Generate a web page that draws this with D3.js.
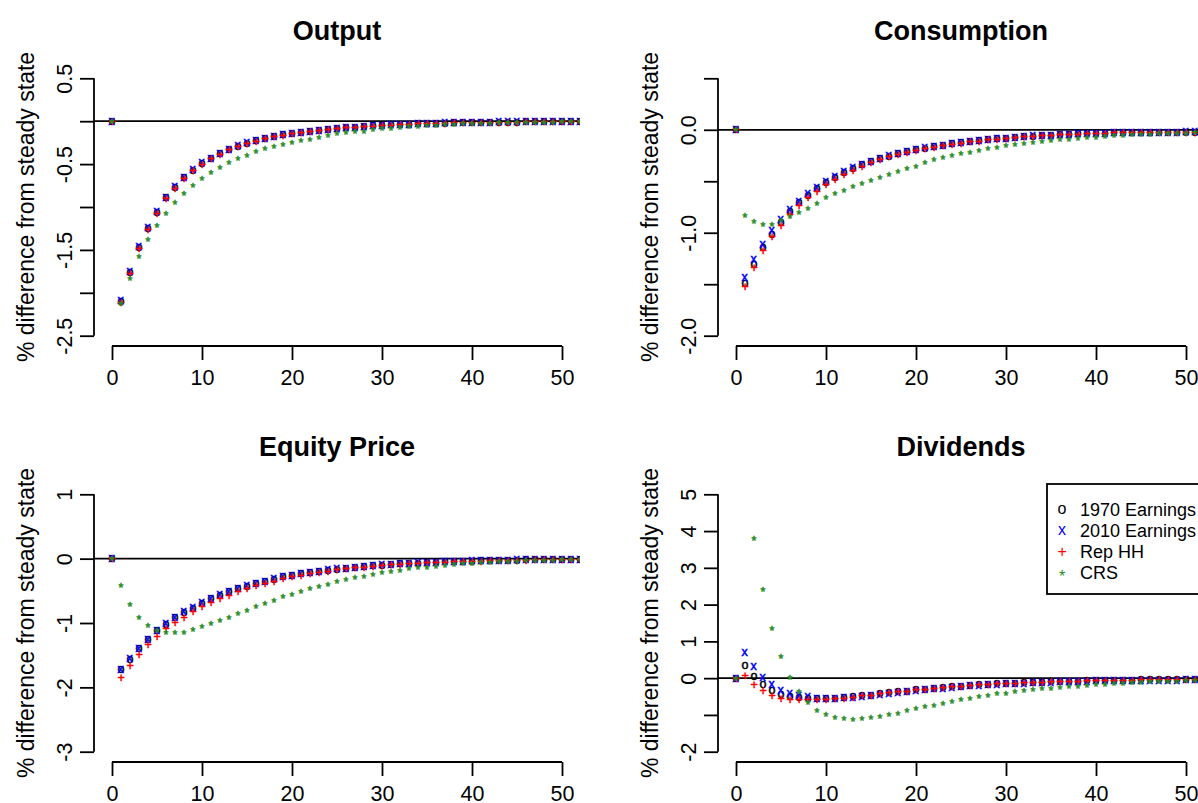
<!DOCTYPE html>
<html>
<head>
<meta charset="utf-8">
<title>Impulse responses</title>
<script src="https://d3js.org/d3.v7.min.js"></script>
<style>
  body { margin: 0; background: #fff; }
  svg text { font-family: "Liberation Sans", Arial, sans-serif; fill: #000; }
</style>
</head>
<body>
<svg id="chart" width="1198" height="803"></svg>
<script>
// periods after the shock
var periods = [0,1,2,3,4,5,6,7,8,9,10,11,12,13,14,15,16,17,18,19,20,21,22,23,24,25,
  26,27,28,29,30,31,32,33,34,35,36,37,38,39,40,41,42,43,44,45,46,47,48,49,50,51,52];

var legendLabels = ['1970 Earnings', '2010 Earnings', 'Rep HH', 'CRS'];
var xTicks = [0, 10, 20, 30, 40, 50];
var xLimits = [0, 50];

// Output
var output1970 = [0, -2.10, -1.76, -1.47, -1.25, -1.06, -0.89, -0.77, -0.66, -0.57,
  -0.49, -0.435, -0.38, -0.33, -0.29, -0.255, -0.23, -0.2, -0.175, -0.16,
  -0.143, -0.132, -0.12, -0.105, -0.093, -0.085, -0.078, -0.07, -0.062, -0.055,
  -0.05, -0.044, -0.04, -0.035, -0.031, -0.027, -0.024, -0.022, -0.02, -0.018,
  -0.016, -0.015, -0.012, -0.01, -0.01, -0.01, -0.008, -0.007, -0.006, -0.006,
  -0.005, -0.005, -0.004];
var output2010 = [0, -2.09, -1.75, -1.46, -1.24, -1.05, -0.885, -0.765, -0.655, -0.565,
  -0.487, -0.432, -0.378, -0.328, -0.288, -0.253, -0.228, -0.198, -0.174, -0.159,
  -0.142, -0.131, -0.119, -0.104, -0.092, -0.084, -0.077, -0.069, -0.061, -0.054,
  -0.049, -0.043, -0.039, -0.034, -0.03, -0.026, -0.023, -0.021, -0.019, -0.017,
  -0.015, -0.014, -0.011, -0.009, -0.009, -0.009, -0.007, -0.006, -0.005, -0.005,
  -0.004, -0.004, -0.003];
var outputRepHH = [0, -2.11, -1.77, -1.48, -1.26, -1.07, -0.90, -0.78, -0.67, -0.58,
  -0.50, -0.44, -0.385, -0.335, -0.295, -0.26, -0.233, -0.203, -0.178, -0.162,
  -0.145, -0.134, -0.122, -0.107, -0.095, -0.086, -0.079, -0.071, -0.063, -0.056,
  -0.051, -0.045, -0.041, -0.036, -0.032, -0.028, -0.025, -0.023, -0.021, -0.019,
  -0.017, -0.016, -0.013, -0.011, -0.011, -0.011, -0.009, -0.008, -0.007, -0.007,
  -0.006, -0.006, -0.005];
var outputCRS = [0, -2.12, -1.83, -1.58, -1.375, -1.21, -1.07, -0.95, -0.845, -0.75,
  -0.67, -0.60, -0.54, -0.485, -0.435, -0.395, -0.355, -0.32, -0.29, -0.268,
  -0.25, -0.229, -0.21, -0.185, -0.167, -0.148, -0.136, -0.124, -0.115, -0.10,
  -0.09, -0.08, -0.074, -0.066, -0.058, -0.05, -0.045, -0.04, -0.036, -0.032,
  -0.028, -0.025, -0.022, -0.02, -0.018, -0.016, -0.014, -0.012, -0.011, -0.01,
  -0.009, -0.008, -0.007];
var outputLimits = [-2.5, 0.5];
var outputTicks = [-2.5, -2, -1.5, -1, -0.5, 0, 0.5];
var outputTickLabels = ['-2.5', '', '-1.5', '', '-0.5', '', '0.5'];

// Consumption
var cons1970 = [0, -1.49, -1.305, -1.147, -1.015, -0.90, -0.795, -0.71, -0.637, -0.572,
  -0.511, -0.462, -0.414, -0.378, -0.34, -0.31, -0.281, -0.256, -0.233, -0.21,
  -0.194, -0.178, -0.165, -0.152, -0.136, -0.126, -0.113, -0.107, -0.094, -0.088,
  -0.081, -0.074, -0.068, -0.061, -0.055, -0.052, -0.049, -0.045, -0.041, -0.038,
  -0.036, -0.033, -0.03, -0.029, -0.028, -0.026, -0.025, -0.024, -0.023, -0.023,
  -0.022, -0.022, -0.021];
var cons2010 = [0, -1.438, -1.26, -1.111, -0.982, -0.872, -0.775, -0.692, -0.62, -0.56,
  -0.50, -0.452, -0.406, -0.371, -0.334, -0.305, -0.277, -0.252, -0.23, -0.208,
  -0.192, -0.176, -0.163, -0.15, -0.135, -0.125, -0.112, -0.106, -0.093, -0.087,
  -0.08, -0.073, -0.067, -0.06, -0.054, -0.051, -0.048, -0.044, -0.04, -0.037,
  -0.035, -0.032, -0.029, -0.028, -0.027, -0.025, -0.024, -0.023, -0.022, -0.022,
  -0.021, -0.021, -0.02];
var consRepHH = [0, -1.525, -1.337, -1.176, -1.04, -0.927, -0.821, -0.737, -0.659, -0.595,
  -0.53, -0.48, -0.43, -0.392, -0.353, -0.32, -0.29, -0.264, -0.24, -0.216,
  -0.199, -0.182, -0.169, -0.155, -0.139, -0.129, -0.116, -0.109, -0.096, -0.09,
  -0.083, -0.076, -0.07, -0.063, -0.057, -0.054, -0.05, -0.046, -0.042, -0.039,
  -0.037, -0.034, -0.031, -0.03, -0.029, -0.027, -0.026, -0.025, -0.024, -0.024,
  -0.023, -0.023, -0.022];
var consCRS = [0, -0.83, -0.895, -0.918, -0.924, -0.885, -0.847, -0.808, -0.766, -0.72,
  -0.66, -0.62, -0.585, -0.55, -0.52, -0.49, -0.46, -0.43, -0.405, -0.378,
  -0.352, -0.317, -0.291, -0.272, -0.252, -0.233, -0.217, -0.198, -0.181, -0.168,
  -0.155, -0.143, -0.13, -0.123, -0.113, -0.104, -0.094, -0.091, -0.081, -0.074,
  -0.071, -0.064, -0.059, -0.054, -0.05, -0.046, -0.043, -0.04, -0.037, -0.035,
  -0.033, -0.031, -0.03];
var consLimits = [-2, 0.5];
var consTicks = [-2, -1.5, -1, -0.5, 0, 0.5];
var consTickLabels = ['-2.0', '', '-1.0', '', '0.0', ''];

// Equity Price
var equity1970 = [0, -1.73, -1.56, -1.40, -1.26, -1.12, -1.02, -0.92, -0.835, -0.77,
  -0.69, -0.62, -0.566, -0.515, -0.468, -0.427, -0.386, -0.35, -0.318, -0.285,
  -0.262, -0.236, -0.216, -0.196, -0.178, -0.162, -0.148, -0.134, -0.122, -0.11,
  -0.10, -0.091, -0.083, -0.075, -0.068, -0.062, -0.056, -0.051, -0.046, -0.042,
  -0.038, -0.034, -0.031, -0.028, -0.025, -0.023, -0.021, -0.019, -0.017, -0.015,
  -0.014, -0.013, -0.012];
var equity2010 = [0, -1.72, -1.55, -1.39, -1.25, -1.11, -1.01, -0.912, -0.828, -0.764,
  -0.685, -0.615, -0.562, -0.511, -0.465, -0.424, -0.384, -0.348, -0.316, -0.283,
  -0.26, -0.234, -0.214, -0.194, -0.176, -0.16, -0.146, -0.132, -0.12, -0.108,
  -0.098, -0.089, -0.081, -0.073, -0.066, -0.06, -0.054, -0.049, -0.044, -0.04,
  -0.036, -0.032, -0.029, -0.026, -0.023, -0.021, -0.019, -0.017, -0.015, -0.013,
  -0.012, -0.011, -0.01];
var equityRepHH = [0, -1.84, -1.66, -1.49, -1.34, -1.21, -1.09, -0.99, -0.91, -0.825,
  -0.75, -0.68, -0.62, -0.566, -0.515, -0.46, -0.42, -0.386, -0.35, -0.312,
  -0.285, -0.257, -0.235, -0.213, -0.194, -0.176, -0.16, -0.145, -0.132, -0.119,
  -0.108, -0.098, -0.089, -0.081, -0.073, -0.066, -0.06, -0.055, -0.05, -0.045,
  -0.041, -0.037, -0.033, -0.03, -0.027, -0.025, -0.022, -0.02, -0.018, -0.016,
  -0.015, -0.014, -0.013];
var equityCRS = [0, -0.42, -0.71, -0.91, -1.04, -1.12, -1.15, -1.15, -1.14, -1.10,
  -1.06, -1.01, -0.96, -0.91, -0.856, -0.80, -0.75, -0.70, -0.645, -0.59,
  -0.555, -0.51, -0.468, -0.43, -0.395, -0.36, -0.33, -0.30, -0.27, -0.245,
  -0.22, -0.20, -0.18, -0.16, -0.145, -0.13, -0.115, -0.10, -0.09, -0.08,
  -0.07, -0.062, -0.055, -0.048, -0.042, -0.037, -0.033, -0.029, -0.026, -0.023,
  -0.02, -0.018, -0.016];
var equityLimits = [-3, 1];
var equityTicks = [-3, -2, -1, 0, 1];
var equityTickLabels = ['-3', '-2', '-1', '0', '1'];

// Dividends (CRS value in period 1 lies off the chart)
var div1970 = [0, 0.35, 0.05, -0.18, -0.34, -0.44, -0.50, -0.53, -0.55, -0.56,
  -0.56, -0.55, -0.53, -0.51, -0.48, -0.46, -0.43, -0.40, -0.37, -0.35,
  -0.32, -0.30, -0.28, -0.26, -0.24, -0.22, -0.20, -0.18, -0.17, -0.15,
  -0.14, -0.135, -0.13, -0.12, -0.11, -0.10, -0.09, -0.085, -0.078, -0.072,
  -0.066, -0.062, -0.058, -0.055, -0.052, -0.05, -0.048, -0.046, -0.044, -0.042,
  -0.04, -0.039, -0.038];
var div2010 = [0, 0.70, 0.33, 0.01, -0.17, -0.33, -0.41, -0.47, -0.50, -0.54,
  -0.55, -0.55, -0.535, -0.515, -0.49, -0.47, -0.44, -0.41, -0.38, -0.36,
  -0.33, -0.31, -0.29, -0.27, -0.25, -0.23, -0.21, -0.19, -0.18, -0.16,
  -0.15, -0.145, -0.14, -0.13, -0.12, -0.11, -0.10, -0.095, -0.088, -0.082,
  -0.076, -0.072, -0.068, -0.065, -0.062, -0.06, -0.058, -0.056, -0.054, -0.052,
  -0.05, -0.049, -0.048];
var divRepHH = [0, 0.07, -0.17, -0.34, -0.47, -0.54, -0.58, -0.59, -0.59, -0.59,
  -0.58, -0.565, -0.54, -0.515, -0.485, -0.46, -0.43, -0.40, -0.37, -0.35,
  -0.32, -0.30, -0.28, -0.26, -0.24, -0.22, -0.20, -0.18, -0.17, -0.15,
  -0.14, -0.135, -0.13, -0.12, -0.11, -0.10, -0.09, -0.085, -0.078, -0.072,
  -0.066, -0.062, -0.058, -0.055, -0.052, -0.05, -0.048, -0.046, -0.044, -0.042,
  -0.04, -0.039, -0.038];
var divCRS = [0, null, 3.79, 2.40, 1.36, 0.60, 0.03, -0.37, -0.67, -0.875,
  -1.00, -1.08, -1.11, -1.12, -1.10, -1.07, -1.03, -0.98, -0.95, -0.89,
  -0.83, -0.78, -0.73, -0.69, -0.63, -0.59, -0.54, -0.50, -0.47, -0.43,
  -0.41, -0.37, -0.34, -0.31, -0.29, -0.27, -0.25, -0.23, -0.22, -0.20,
  -0.18, -0.16, -0.15, -0.14, -0.12, -0.11, -0.10, -0.09, -0.09, -0.08,
  -0.075, -0.07, -0.07];
var divLimits = [-2, 5];
var divTicks = [-2, -1, 0, 1, 2, 3, 4, 5];
var divTickLabels = ['-2', '', '0', '1', '2', '3', '4', '5'];

// marker glyphs and colours, same order as legendLabels
var pch = ['o', 'x', '+', '*'];
var colors = ['#000000', '#0000ff', '#ff0000', '#228b22'];

var panels = [
  { title: 'Output', col: 0, row: 0, lim: outputLimits, ticks: outputTicks, labels: outputTickLabels,
    series: [output1970, output2010, outputRepHH, outputCRS] },
  { title: 'Consumption', col: 1, row: 0, lim: consLimits, ticks: consTicks, labels: consTickLabels,
    series: [cons1970, cons2010, consRepHH, consCRS] },
  { title: 'Equity Price', col: 0, row: 1, lim: equityLimits, ticks: equityTicks, labels: equityTickLabels,
    series: [equity1970, equity2010, equityRepHH, equityCRS] },
  { title: 'Dividends', col: 1, row: 1, lim: divLimits, ticks: divTicks, labels: divTickLabels,
    series: [div1970, div2010, divRepHH, divCRS], legend: true }
];

// layout (R style 2x2 panels)
var colW = 624, rowH = 416;
var plotLeft = 94, plotTop = 68, plotW = 486, plotH = 278;
var markerSize = 12.5;

var svg = d3.select('#chart');
svg.append('rect').attr('width', 1198).attr('height', 803).attr('fill', '#fff');

// center glyphs on their ink box, like R does for character pch
var ctx = document.createElement('canvas').getContext('2d');
function glyphShift(ch, size) {
  ctx.font = size + 'px "Liberation Sans"';
  var m = ctx.measureText(ch);
  return {
    dx: -(m.actualBoundingBoxRight - m.actualBoundingBoxLeft) / 2,
    dy: (m.actualBoundingBoxAscent - m.actualBoundingBoxDescent) / 2
  };
}

function pad(lim) {
  var d = (lim[1] - lim[0]) * 0.04;
  return [lim[0] - d, lim[1] + d];
}

panels.forEach(function(p, pi) {
  var ox = p.col * colW, oy = p.row * rowH;
  var left = ox + plotLeft, top = oy + plotTop;

  var x = d3.scaleLinear().domain(pad(xLimits)).range([left, left + plotW]);
  var y = d3.scaleLinear().domain(pad(p.lim)).range([top + plotH, top]);

  var g = svg.append('g');

  g.append('clipPath').attr('id', 'clip' + pi)
    .append('rect').attr('x', left).attr('y', top).attr('width', plotW).attr('height', plotH);

  // title
  g.append('text')
    .attr('x', left + plotW / 2).attr('y', oy + 40)
    .attr('text-anchor', 'middle')
    .style('font-size', '27px').style('font-weight', 'bold')
    .text(p.title);

  // y label
  g.append('text')
    .attr('transform', 'translate(' + (ox + 34) + ',' + (top + plotH / 2) + ') rotate(-90)')
    .attr('text-anchor', 'middle')
    .style('font-size', '23px')
    .text('% difference from steady state');

  // y axis
  var yAxis = g.append('g').attr('transform', 'translate(' + left + ',0)')
    .call(d3.axisLeft(y).tickValues(p.ticks).tickSize(14).tickSizeOuter(0)
      .tickFormat(function(d, i) { return p.labels[i]; }));
  yAxis.select('.domain').remove();
  yAxis.append('line')
    .attr('y1', y(p.ticks[0])).attr('y2', y(p.ticks[p.ticks.length - 1]));
  yAxis.selectAll('line').attr('stroke', '#000').attr('stroke-width', 1.8);
  yAxis.selectAll('text')
    .attr('x', 0).attr('dy', 0)
    .attr('transform', 'translate(-22,0) rotate(-90)')
    .attr('text-anchor', 'middle')
    .style('font-size', '21.5px');

  // x axis
  var xAxis = g.append('g').attr('transform', 'translate(0,' + (top + plotH) + ')')
    .call(d3.axisBottom(x).tickValues(xTicks).tickSize(14).tickSizeOuter(0));
  xAxis.select('.domain').remove();
  xAxis.append('line')
    .attr('x1', x(xTicks[0])).attr('x2', x(xTicks[xTicks.length - 1]));
  xAxis.selectAll('line').attr('stroke', '#000').attr('stroke-width', 1.8);
  xAxis.selectAll('text')
    .attr('y', 39).attr('dy', 0)
    .style('font-size', '21.5px');
  xAxis.attr('font-family', null); yAxis.attr('font-family', null);

  var inner = g.append('g').attr('clip-path', 'url(#clip' + pi + ')');

  // abline h = 0
  inner.append('line')
    .attr('x1', left).attr('x2', left + plotW)
    .attr('y1', y(0)).attr('y2', y(0))
    .attr('stroke', '#000').attr('stroke-width', 1.8);

  // points
  p.series.forEach(function(vals, si) {
    var sh = glyphShift(pch[si], markerSize);
    var pts = periods.map(function(t, i) { return { t: t, v: vals[i] }; })
      .filter(function(d) { return d.v !== null && d.v !== undefined; });
    inner.selectAll('text.s' + si)
      .data(pts).enter().append('text')
      .attr('class', 's' + si)
      .attr('x', function(d) { return x(d.t) + sh.dx; })
      .attr('y', function(d) { return y(d.v) + sh.dy; })
      .style('fill', colors[si])
      .style('stroke', colors[si]).style('stroke-width', 0.5)
      .style('font-size', markerSize + 'px')
      .text(pch[si]);
  });

  if (p.legend) {
    var lx = ox + 1047 - colW, ly = top;
    var lg = g.append('g');
    lg.append('rect')
      .attr('x', lx).attr('y', ly).attr('width', left + plotW - lx).attr('height', 110)
      .attr('fill', '#fff').attr('stroke', '#000').attr('stroke-width', 1.8);
    legendLabels.forEach(function(lab, i) {
      var cy = ly + 25 + i * 21.3;
      var sh = glyphShift(pch[i], 16);
      lg.append('text')
        .attr('x', lx + 15 + sh.dx).attr('y', cy + sh.dy)
        .style('fill', colors[i]).style('font-size', '16px')
        .text(pch[i]);
      lg.append('text')
        .attr('x', lx + 33).attr('y', cy + 6.5)
        .style('font-size', '18px')
        .text(lab);
    });
  }
});
</script>
</body>
</html>
